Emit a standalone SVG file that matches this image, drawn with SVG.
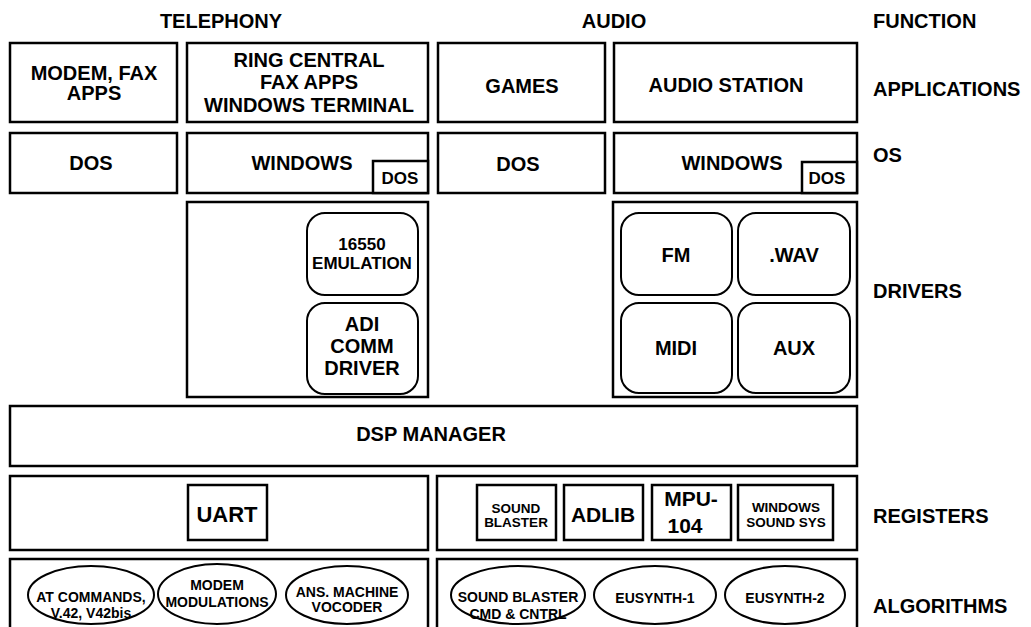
<svg xmlns="http://www.w3.org/2000/svg" width="1031" height="627" viewBox="0 0 1031 627">
<style>
text{font-family:"Liberation Sans",Arial,sans-serif;font-weight:bold;fill:#000;text-anchor:middle}
.lbl{text-anchor:start;font-size:20px}
.hd{font-size:20px}
.b{fill:#fff;stroke:#000;stroke-width:2.5}
.r{fill:#fff;stroke:#000;stroke-width:2}
.t20{font-size:20px}
.t17{font-size:17px}
.t14{font-size:14px}
.t13{font-size:13.5px}
</style>
<rect width="1031" height="627" fill="#fff"/>
<g id="headers">
<text class="hd" x="221" y="28">TELEPHONY</text>
<text class="hd" x="614" y="28">AUDIO</text>
<text class="lbl" x="873" y="28">FUNCTION</text>
<text class="lbl" x="873" y="96">APPLICATIONS</text>
<text class="lbl" x="873" y="162">OS</text>
<text class="lbl" x="873" y="298">DRIVERS</text>
<text class="lbl" x="873" y="523">REGISTERS</text>
<text class="lbl" x="873" y="613">ALGORITHMS</text>
</g>
<g id="app-modem"><rect class="b" x="10" y="43" width="167" height="79"/>
<text class="t20" x="94" y="80">MODEM, FAX</text><text class="t20" x="94" y="100">APPS</text></g>
<g id="app-ring"><rect class="b" x="187" y="43" width="241" height="79"/>
<text class="t20" x="309" y="67">RING CENTRAL</text><text class="t20" x="309" y="89">FAX APPS</text><text class="t20" x="309" y="112">WINDOWS TERMINAL</text></g>
<g id="app-games"><rect class="b" x="438" y="43" width="167" height="79"/>
<text class="t20" x="522" y="93">GAMES</text></g>
<g id="app-audio"><rect class="b" x="614" y="43" width="243" height="79"/>
<text class="t20" x="726" y="92">AUDIO STATION</text></g>
<g id="os-dos1"><rect class="b" x="10" y="133" width="167" height="60"/>
<text class="t20" x="91" y="170">DOS</text></g>
<g id="os-win1"><rect class="b" x="187" y="133" width="241" height="60"/>
<text class="t20" x="302" y="170">WINDOWS</text>
<rect class="b" x="373" y="161" width="55" height="32"/><text class="t17" x="400" y="184">DOS</text></g>
<g id="os-dos2"><rect class="b" x="438" y="133" width="167" height="60"/>
<text class="t20" x="518" y="171">DOS</text></g>
<g id="os-win2"><rect class="b" x="614" y="133" width="243" height="60"/>
<text class="t20" x="732" y="170">WINDOWS</text>
<rect class="b" x="802" y="162" width="55" height="31"/><text class="t17" x="827" y="184">DOS</text></g>
<g id="drv-tel"><rect class="b" x="187" y="202" width="241" height="195"/>
<rect class="r" x="307" y="213" width="111" height="82" rx="18"/>
<text class="t17" x="362" y="250">16550</text><text class="t17" x="362" y="269">EMULATION</text>
<rect class="r" x="307" y="303" width="111" height="91" rx="18"/>
<text class="t20" x="362" y="331">ADI</text><text class="t20" x="362" y="353">COMM</text><text class="t20" x="362" y="375">DRIVER</text></g>
<g id="drv-audio"><rect class="b" x="613" y="202" width="244" height="195"/>
<rect class="r" x="621" y="213" width="111" height="82" rx="18"/><text class="t20" x="676" y="262">FM</text>
<rect class="r" x="738" y="213" width="112" height="82" rx="18"/><text class="t20" x="794" y="262">.WAV</text>
<rect class="r" x="621" y="303" width="111" height="90" rx="18"/><text class="t20" x="676" y="355">MIDI</text>
<rect class="r" x="738" y="303" width="112" height="90" rx="18"/><text class="t20" x="794" y="355">AUX</text></g>
<g id="dsp"><rect class="b" x="10" y="406" width="847" height="60"/>
<text class="t20" x="431" y="441">DSP MANAGER</text></g>
<g id="reg-tel"><rect class="b" x="10" y="476" width="418" height="74"/>
<rect class="b" x="188" y="485" width="79" height="55"/><text style="font-size:22px" x="227" y="522">UART</text></g>
<g id="reg-audio"><rect class="b" x="437" y="476" width="420" height="74"/>
<rect class="b" x="477" y="485" width="79" height="55"/><text class="t13" x="516" y="513">SOUND</text><text class="t13" x="516" y="527">BLASTER</text>
<rect class="b" x="564" y="485" width="79" height="55"/><text style="font-size:21px" x="603" y="522">ADLIB</text>
<rect class="b" x="652" y="485" width="79" height="55"/><text style="font-size:21px" x="691" y="506">MPU-</text><text style="font-size:21px" x="685" y="533">104</text>
<rect class="b" x="738" y="485" width="95" height="55"/><text class="t13" x="786" y="512">WINDOWS</text><text class="t13" x="786" y="527">SOUND SYS</text></g>
<g id="alg-tel"><rect class="b" x="10" y="559" width="418" height="80"/>
<ellipse class="r" cx="91" cy="595" rx="63" ry="29"/><text class="t14" x="91" y="602">AT COMMANDS,</text><text class="t14" x="91" y="618">V.42, V42bis</text>
<ellipse class="r" cx="217" cy="594" rx="59" ry="30"/><text class="t14" x="217" y="590">MODEM</text><text class="t14" x="217" y="607">MODULATIONS</text>
<ellipse class="r" cx="347" cy="595" rx="61" ry="29"/><text class="t14" x="347" y="597">ANS. MACHINE</text><text class="t14" x="347" y="612">VOCODER</text></g>
<g id="alg-audio"><rect class="b" x="437" y="559" width="420" height="80"/>
<ellipse class="r" cx="518" cy="595" rx="67" ry="29"/><text class="t14" x="518" y="602">SOUND BLASTER</text><text class="t14" x="518" y="619">CMD &amp; CNTRL</text>
<ellipse class="r" cx="655" cy="595" rx="61" ry="29"/><text class="t14" x="655" y="603">EUSYNTH-1</text>
<ellipse class="r" cx="785" cy="595" rx="60" ry="29"/><text class="t14" x="785" y="603">EUSYNTH-2</text></g>
<g id="connectors"></g>
</svg>
